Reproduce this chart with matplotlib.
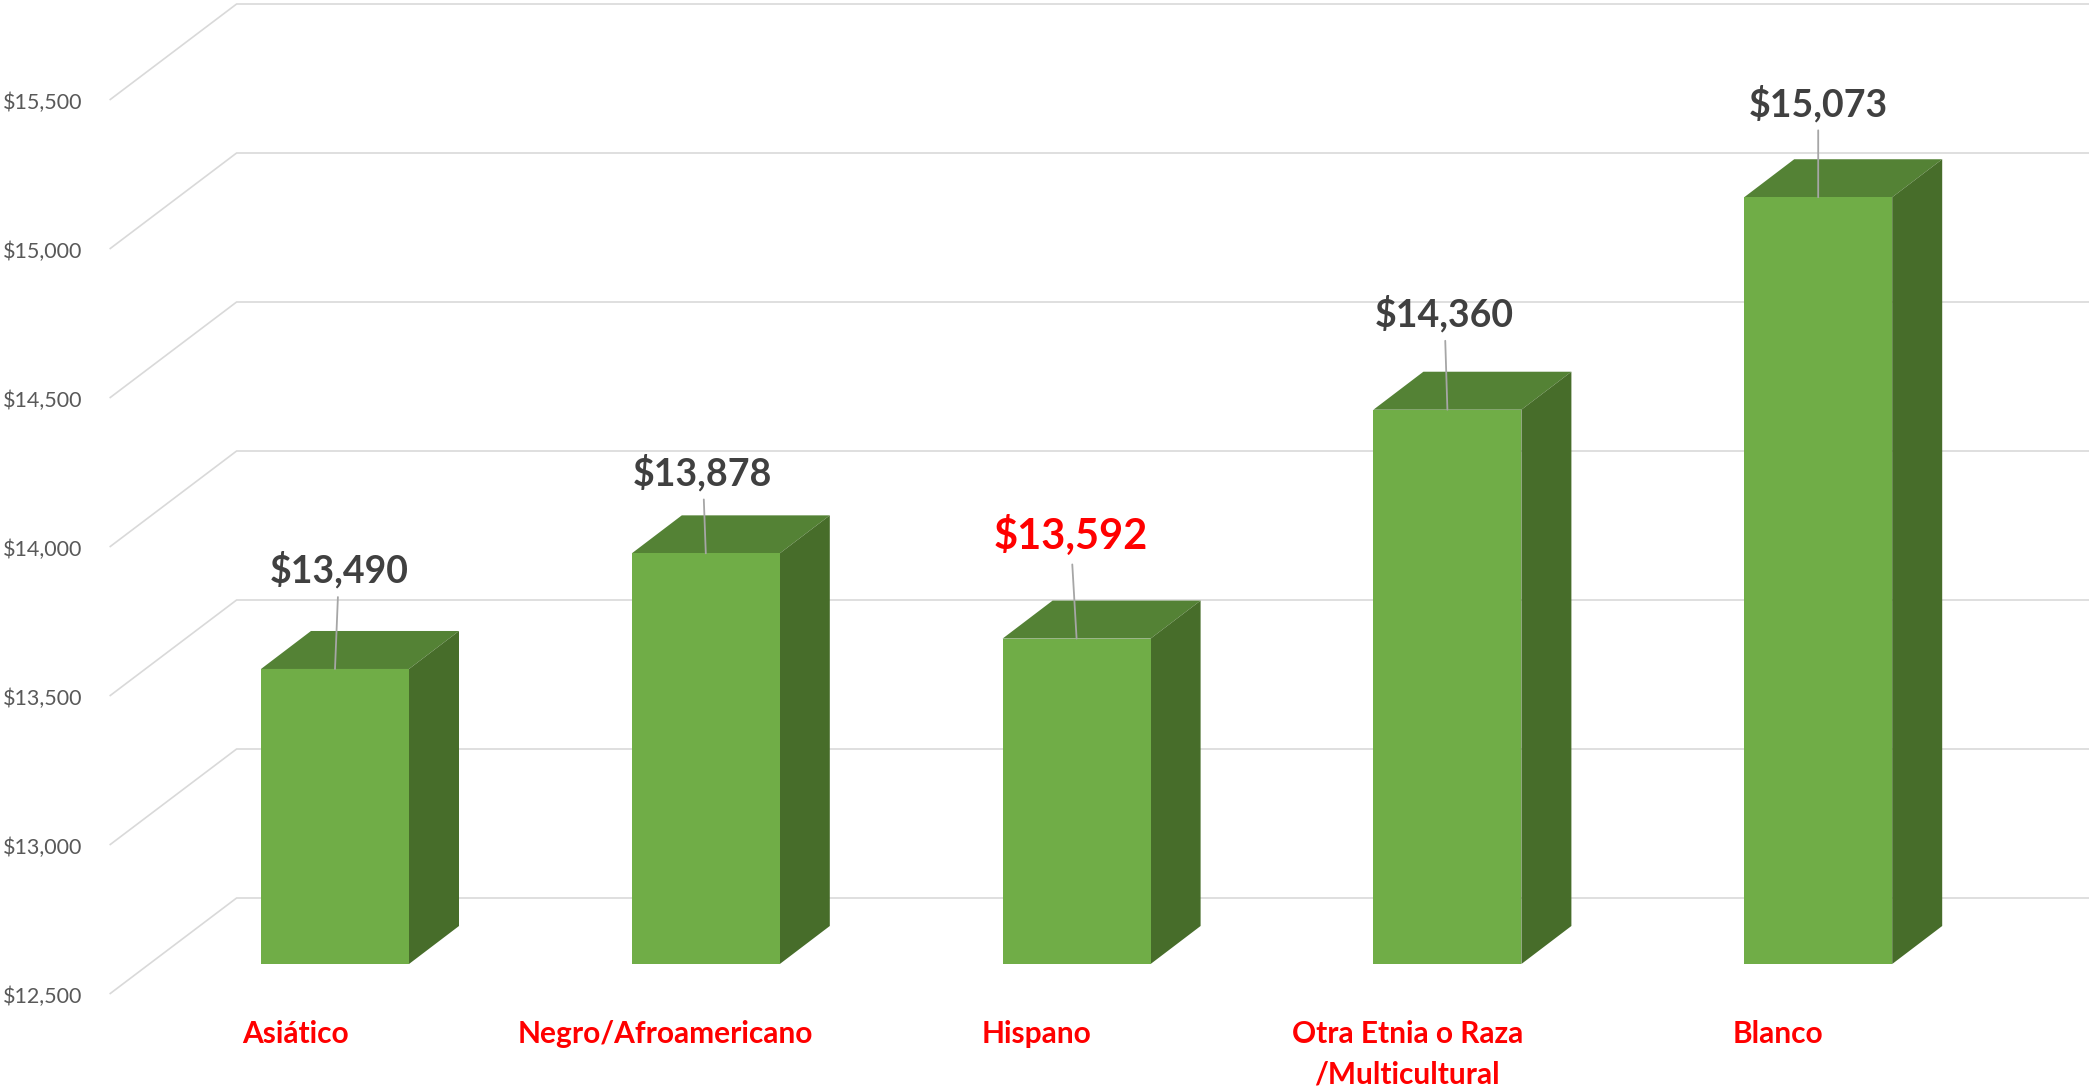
import matplotlib
matplotlib.use("Agg")
import matplotlib.pyplot as plt
from matplotlib.patches import Polygon

# ---- data ----
categories = ["Asiático", "Negro/Afroamericano", "Hispano",
              "Otra Etnia o Raza\n/Multicultural", "Blanco"]
values = [13490, 13878, 13592, 14360, 15073]
value_labels = ["$13,490", "$13,878", "$13,592", "$14,360", "$15,073"]
y_ticks = [12500, 13000, 13500, 14000, 14500, 15000, 15500]
y_tick_labels = ["$12,500", "$13,000", "$13,500", "$14,000", "$14,500", "$15,000", "$15,500"]
highlight = [False, False, True, False, False]

# ---- geometry (pixel scale of the reference) ----
W, H, DPI = 2089, 1091, 100
PX_CAT = 370.8          # pixels per category
PX_VAL = 149 / 500.0    # pixels per value unit
X0_PX, Y0_PX = 295, 994  # front-plane position of category 0 / value 12500
BASE = 12500

def cx(px):  # pixel distance -> category units
    return px / PX_CAT
def vy(px):  # pixel distance -> value units
    return px / PX_VAL

fig = plt.figure(figsize=(W / DPI, H / DPI), dpi=DPI)
ax = fig.add_axes([0, 0, 1, 1])
ax.set_xlim(-cx(X0_PX), cx(W - X0_PX))
ax.set_ylim(BASE - vy(H - Y0_PX), BASE + vy(Y0_PX))
ax.axis("off")

FONT = "Lato"
grid_c = "#d9d9d9"
dtx, dty = cx(127), vy(96)   # full depth of the floor/wall
dfx, dfy = cx(40), vy(30)    # bar front offset
dbx, dby = cx(50), vy(38)    # bar depth
bw = cx(148)
n = len(categories)

# gridlines: front diagonal + back wall horizontal
for t, lab in zip(y_ticks, y_tick_labels):
    ax.plot([-0.5, -0.5 + dtx, n - 0.5 + dtx + 0.2], [t, t + dty, t + dty],
            color=grid_c, lw=1.2, zorder=0, solid_capstyle="butt")
    ax.text(-0.5 - cx(27), t + vy(-3), lab, ha="right", va="center",
            fontsize=15.5, color="#595959", family=FONT)

front_c, top_c, side_c = "#70AD47", "#548235", "#476D2A"
xs = [i + dfx for i in range(n)]
ax.bar(xs, [v - BASE for v in values], bottom=BASE + dfy, width=bw,
       color=front_c, zorder=3, linewidth=0)
for i, v in enumerate(values):
    xl = i + dfx - bw / 2
    xr = i + dfx + bw / 2
    vt = v + dfy
    vb = BASE + dfy
    ax.add_patch(Polygon([(xl, vt), (xr, vt), (xr + dbx, vt + dby), (xl + dbx, vt + dby)],
                         closed=True, facecolor=top_c, edgecolor="none", zorder=2))
    ax.add_patch(Polygon([(xr, vb), (xr + dbx, vb + dby), (xr + dbx, vt + dby), (xr, vt)],
                         closed=True, facecolor=side_c, edgecolor="none", zorder=2))

# data labels with leader lines
label_off_px = [(4, 99), (-3, 81), (-6, 103), (-3, 96), (0, 94)]
for i, (v, lab, hl) in enumerate(zip(values, value_labels, highlight)):
    ox, oy = label_off_px[i]
    ax.annotate(lab, xy=(i + dfx, v + dfy),
                xytext=(ox * 72 / DPI, oy * 72 / DPI), textcoords="offset points",
                ha="center", va="center",
                fontsize=30 if hl else 27, fontweight="bold",
                color="#FF0000" if hl else "#404040", family=FONT,
                arrowprops=dict(arrowstyle="-", color="#a6a6a6", lw=1.3,
                                shrinkA=4, shrinkB=0),
                zorder=5)

# category labels
for i, c in enumerate(categories):
    ax.text(i, BASE - vy(26), c, ha="center", va="top", fontsize=21.5,
            fontweight="bold", color="#FF0000", family=FONT, linespacing=1.55)

fig.savefig("out.png", dpi=DPI)
